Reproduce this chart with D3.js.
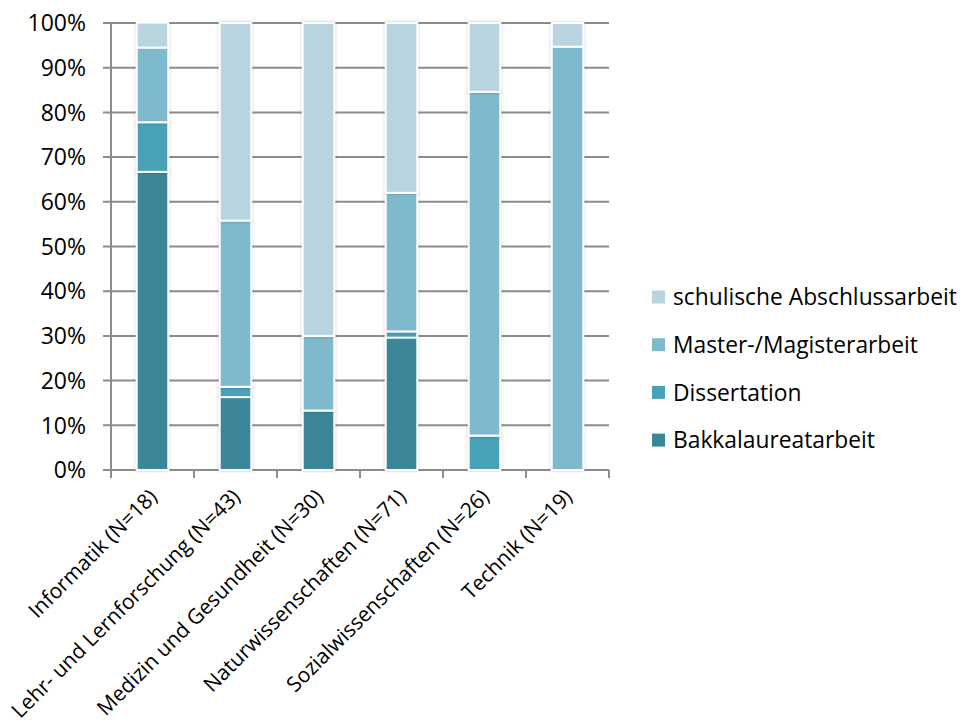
<!DOCTYPE html>
<html><head><meta charset="utf-8">
<script src="https://cdn.jsdelivr.net/npm/d3@7"></script>
<style>body{margin:0;background:#fff;} text{font-family:"Open Sans",Lato,sans-serif;fill:#000;}</style>
</head><body><svg id="c" width="965" height="722"></svg>
<script>
const categories = ["Informatik (N=18)","Lehr- und Lernforschung (N=43)","Medizin und Gesundheit (N=30)","Naturwissenschaften (N=71)","Sozialwissenschaften (N=26)","Technik (N=19)"];
const seriesNames = ["Bakkalaureatarbeit","Dissertation","Master-/Magisterarbeit","schulische Abschlussarbeit"];
const bakkalaureat = [66.7, 16.3, 13.3, 29.6, 0, 0];
const dissertation = [11.1, 2.3, 0, 1.4, 7.7, 0];
const master = [16.7, 37.2, 16.7, 31.0, 76.9, 94.7];
const schulisch = [5.6, 44.2, 70.0, 38.0, 15.4, 5.3];
const colors = ["#3A8699","#48A1B8","#7EB9CE","#B8D4DF"];
const yTicks = [0,10,20,30,40,50,60,70,80,90,100];

const svg = d3.select("#c");
const defs = svg.append("defs");
const f = defs.append("filter").attr("id","sh").attr("x","-30%").attr("y","-5%").attr("width","160%").attr("height","110%");
f.append("feDropShadow").attr("dx",0).attr("dy",0).attr("stdDeviation",1.5).attr("flood-color","#000").attr("flood-opacity",0.25);

const x = d3.scaleBand().domain(categories).range([111,609]).paddingInner(0.62).paddingOuter(0.31);
const y = d3.scaleLinear().domain([0,100]).range([470,23]);

svg.append("g").selectAll("line").data(yTicks).join("line")
  .attr("x1",103).attr("x2",609).attr("y1",d=>y(d)).attr("y2",d=>y(d))
  .attr("stroke","#8c8c8c").attr("stroke-width",2);
svg.append("line").attr("x1",111).attr("x2",111).attr("y1",23).attr("y2",478).attr("stroke","#8c8c8c").attr("stroke-width",2);
const bounds = categories.map(c=>x(c)-x.step()*x.paddingInner()/2).concat([609]);
svg.append("g").selectAll("line").data(bounds).join("line")
  .attr("x1",d=>d).attr("x2",d=>d).attr("y1",470).attr("y2",478).attr("stroke","#8c8c8c").attr("stroke-width",2);

svg.append("g").selectAll("text").data(yTicks).join("text")
  .attr("x",86).attr("y",d=>y(d)).attr("dy","0.36em").attr("text-anchor","end")
  .attr("font-size",23).text(d=>d+"%");

const rows = categories.map((c,i)=>({cat:c, [seriesNames[0]]:bakkalaureat[i],[seriesNames[1]]:dissertation[i],[seriesNames[2]]:master[i],[seriesNames[3]]:schulisch[i]}));
const stack = d3.stack().keys(seriesNames)(rows);
const bw = x.bandwidth();
stack.forEach((s,si)=>{
  svg.append("g").selectAll("rect").data(s.filter(d=>d[1]-d[0]>0)).join("rect")
    .attr("x",d=>x(d.data.cat)).attr("width",bw)
    .attr("y",d=>y(d[1])).attr("height",d=>y(d[0])-y(d[1]))
    .attr("fill",colors[si]).attr("stroke","#fff").attr("stroke-width",2)
    .attr("filter","url(#sh)");
});

svg.append("g").selectAll("text").data(categories).join("text")
  .attr("transform",d=>`translate(${x(d)+bw/2+6},${498}) rotate(-45)`)
  .attr("text-anchor","end").attr("font-size",21).text(d=>d);

const leg = ["schulische Abschlussarbeit","Master-/Magisterarbeit","Dissertation","Bakkalaureatarbeit"];
const legG = svg.append("g").selectAll("g").data(leg).join("g")
  .attr("transform",(d,i)=>`translate(652,${297+i*47.7})`);
legG.append("rect").attr("x",0).attr("y",-6.5).attr("width",13).attr("height",13)
  .attr("fill",d=>colors[seriesNames.indexOf(d)]);
legG.append("text").attr("x",21).attr("y",0).attr("dy","0.36em").attr("font-size",22.8).text(d=>d);
</script></body></html>
